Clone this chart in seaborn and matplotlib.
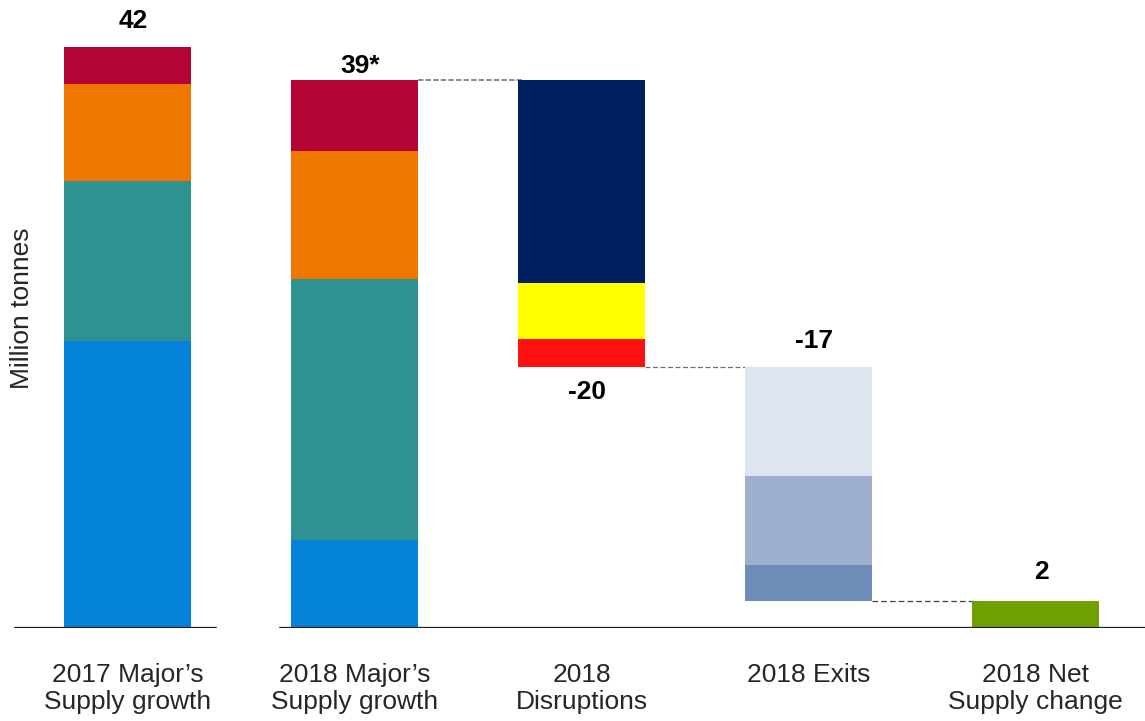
import numpy as np
import matplotlib
matplotlib.use("Agg")
import matplotlib.pyplot as plt
import seaborn as sns

# ---------------- data ----------------
categories = ["2017 Major\u2019s\nSupply growth", "2018 Major\u2019s\nSupply growth",
              "2018\nDisruptions", "2018 Exits", "2018 Net\nSupply change"]
value_labels = ["42", "39*", "-20", "-17", "2"]

# stacked segments, bottom -> top
growth_2017 = [20.75, 11.57, 7.0, 2.68]
growth_2018 = [6.36, 18.87, 9.26, 5.13]
# decreases, top -> bottom
disruptions = [14.68, 4.05, 2.02]
exits = [7.88, 6.44, 2.6]
net_change = 1.95

growth_colors = ["#0583DB", "#2E9290", "#EE7700", "#B40335"]
disruption_colors = ["#00205F", "#FFFF00", "#FF1010"]
exit_colors = ["#DFE5EF", "#9DAFCD", "#6D8CB8"]
net_color = "#70A000"

# ---------------- style ----------------
sns.set_theme(style="white")
plt.rcParams["font.family"] = ["Liberation Sans", "DejaVu Sans"]

W, H = 1145, 721
fig = plt.figure(figsize=(W / 100, H / 100), dpi=100)
ax = fig.add_axes([0, 93 / H, 1, 628 / H])
px_per_unit = 13.83
ax.set_ylim(0, 628 / px_per_unit)
ax.set_xlim(-127.5 / 227, (W - 127.5) / 227)
bw = 0.56

# bar 0 and 1: stacked growth
for xi, segs in ((0, growth_2017), (1, growth_2018)):
    bottoms = np.concatenate([[0], np.cumsum(segs)[:-1]])
    ax.bar([xi] * len(segs), segs, bottom=bottoms, width=bw,
           color=growth_colors, linewidth=0, zorder=3)

total_2018 = sum(growth_2018)
# disruptions hanging from 2018 total
tops = total_2018 - np.concatenate([[0], np.cumsum(disruptions)[:-1]])
ax.bar([2] * len(disruptions), disruptions, bottom=tops - np.array(disruptions),
       width=bw, color=disruption_colors, linewidth=0, zorder=3)
after_dis = total_2018 - sum(disruptions)
tops = after_dis - np.concatenate([[0], np.cumsum(exits)[:-1]])
ax.bar([3] * len(exits), exits, bottom=tops - np.array(exits),
       width=bw, color=exit_colors, linewidth=0, zorder=3)
after_exit = after_dis - sum(exits)
ax.bar([4], [net_change], width=bw, color=net_color, linewidth=0, zorder=3)

# connectors
ax.plot([1 + bw / 2, 2 - bw / 2 + 0.02], [total_2018] * 2, color="#808080",
        lw=1.3, dashes=(3, 1.2), zorder=2)
ax.plot([2 + bw / 2, 3 - bw / 2 + 0.03], [after_dis] * 2, color="#707070",
        lw=0.9, dashes=(4, 2), zorder=2)
ax.plot([3 + bw / 2, 4 - bw / 2 + 0.03], [after_exit] * 2, color="#404040",
        lw=0.9, dashes=(4.5, 2.5), zorder=2)

# value labels
label_pos = [(0, sum(growth_2017), 19), (1, total_2018, 10), (2, after_dis, -18),
             (3, after_dis, 19), (4, net_change, 21)]
for (xi, yv, off), txt in zip(label_pos, value_labels):
    ax.annotate(txt, (xi, yv), xytext=(4, off), textcoords="offset points",
                ha="center", va="center", fontsize=19, fontweight="bold",
                color="black")

# axes cosmetics
for s in ax.spines.values():
    s.set_visible(False)
ax.axhline(0, xmin=14.6 / W, xmax=216 / W, color="#1a1a1a", lw=1.6, zorder=4)
ax.axhline(0, xmin=280 / W, xmax=1, color="#1a1a1a", lw=1.6, zorder=4)
ax.set_yticks([])
ax.set_xticks(range(len(categories)))
ax.set_xticklabels(categories, fontsize=19, linespacing=1.15)
ax.tick_params(axis="x", length=0, pad=25)
ax.set_ylabel("Million tonnes", fontsize=19)
ax.yaxis.set_label_coords(34 / W, (628 - 308) / 628)

fig.savefig("out.png", dpi=100)
